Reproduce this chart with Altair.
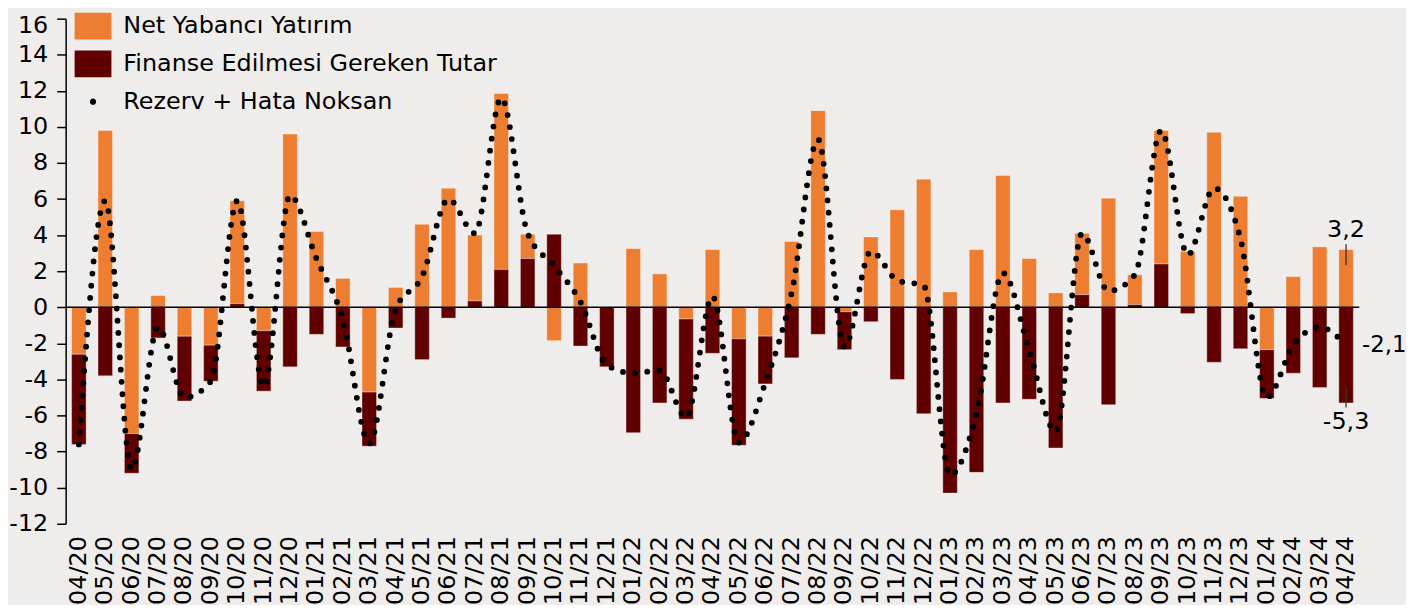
import altair as alt
import pandas as pd

months = ["04/20", "05/20", "06/20", "07/20", "08/20", "09/20", "10/20", "11/20", "12/20",
          "01/21", "02/21", "03/21", "04/21", "05/21", "06/21", "07/21", "08/21", "09/21", "10/21", "11/21", "12/21",
          "01/22", "02/22", "03/22", "04/22", "05/22", "06/22", "07/22", "08/22", "09/22", "10/22", "11/22", "12/22",
          "01/23", "02/23", "03/23", "04/23", "05/23", "06/23", "07/23", "08/23", "09/23", "10/23", "11/23", "12/23",
          "01/24", "02/24", "03/24", "04/24"]

# stacked segment values (bn USD)
net_yabanci = [-2.6, 9.8, -7.0, 0.65, -1.6, -2.1, 5.7, -1.3, 9.6,
               4.2, 1.6, -4.7, 1.1, 4.6, 6.6, 3.65, 9.75, 1.35, -1.85, 2.45, 0.0,
               3.25, 1.85, -0.65, 3.2, -1.75, -1.6, 3.65, 10.9, -0.25, 3.9, 5.4, 7.1,
               0.85, 3.2, 7.3, 2.7, 0.8, 3.4, 6.05, 1.65, 7.4, 3.1, 9.7, 6.15,
               -2.35, 1.7, 3.35, 3.2]
finanse = [-5.0, -3.8, -2.2, -1.7, -3.6, -2.0, 0.2, -3.35, -3.3,
           -1.5, -2.2, -3.0, -1.15, -2.9, -0.6, 0.35, 2.1, 2.7, 4.05, -2.15, -3.3,
           -6.95, -5.3, -5.55, -2.55, -5.9, -2.65, -2.8, -1.5, -2.1, -0.8, -4.0, -5.9,
           -10.3, -9.15, -5.3, -5.1, -7.8, 0.7, -5.4, 0.15, 2.4, -0.35, -3.05, -2.3,
           -2.7, -3.65, -4.45, -5.3]
rezerv = [-7.6, 5.9, -9.0, -1.1, -5.0, -4.1, 5.9, -4.4, 6.2,
          2.7, -0.7, -7.55, -0.1, 1.7, 6.0, 4.1, 11.6, 4.1, 2.3, 0.3, -3.2,
          -3.65, -3.5, -6.1, 0.6, -7.5, -4.2, 0.8, 9.3, -2.2, 3.1, 1.5, 1.2,
          -9.3, -5.9, 1.9, -2.4, -6.9, 4.1, 0.9, 1.8, 9.8, 2.9, 6.6, 3.8,
          -5.0, -2.1, -1.1, -2.1]

series_names = ["Net Yabancı Yatırım", "Finanse Edilmesi Gereken Tutar", "Rezerv + Hata Noksan"]
series_colors = ["#ED7D31", "#600000", "#000000"]

ann_month = ["04/24"]
ann_top_label, ann_top_value = ["3,2"], [3.2]
ann_bot_label, ann_bot_value = ["-5,3"], [-5.3]
ann_side_label, ann_side_value = ["-2,1"], [-2.1]

rows = []
for m, o, d in zip(months, net_yabanci, finanse):
    rows.append({"month": m, "key": "nyy", "series": series_names[0], "value": o})
    rows.append({"month": m, "key": "fegt", "series": series_names[1], "value": d})
bars_df = pd.DataFrame(rows)
dots_df = pd.DataFrame({"month": months, "value": rezerv})
legend_df = pd.DataFrame({"series": series_names})

FONT = "DejaVu Sans"

x_scale = alt.Scale(paddingInner=0.45, paddingOuter=0.225)
x_axis = alt.Axis(title=None, labelAngle=-90, labelFontSize=24, labelFont=FONT,
                  labelColor="black", ticks=False, domain=False, labelPadding=12,
                  labelOverlap=False)
y_scale = alt.Scale(domain=[-12, 16], nice=False, zero=False)
y_axis = alt.Axis(title=None, values=list(range(-12, 17, 2)), domainColor="black", domainWidth=1.5,
                  tickColor="black", tickSize=9, tickWidth=1.5, labelFontSize=24, labelFont=FONT,
                  labelColor="black", labelPadding=9, grid=False, labelOverlap=False,
                  labelOffset={"condition": {"test": "datum.value === 16", "value": 7}, "value": 0},
                  labelExpr="'' + datum.value")


def X():
    return alt.X("month:N", sort=months, scale=x_scale, axis=x_axis)


def Y(field):
    return alt.Y(field, scale=y_scale, axis=y_axis)


color_scale = alt.Scale(domain=series_names, range=series_colors)
shape_scale = alt.Scale(domain=series_names,
                        range=["M-1,-0.73L1,-0.73L1,0.73L-1,0.73Z",
                               "M-1,-0.73L1,-0.73L1,0.73L-1,0.73Z",
                               "M-0.17,0A0.17,0.17,0,1,0,0.17,0A0.17,0.17,0,1,0,-0.17,0Z"])
leg = alt.Legend(title=None, orient="none", legendX=9, legendY=-11, symbolSize=1369,
                 symbolStrokeWidth=0, symbolOpacity=1, labelFontSize=24, labelFont=FONT,
                 labelColor="black", labelOffset=12, rowPadding=5, padding=0, labelLimit=0)

bars = alt.Chart(bars_df).transform_calculate(
    ord="datum.value >= 0 ? (datum.key == 'fegt' ? 0 : 1) : (datum.key == 'nyy' ? 0 : 1)"
).mark_bar(stroke="white", strokeOpacity=0.35, strokeWidth=1).encode(
    x=X(),
    y=alt.Y("value:Q", stack="zero", scale=y_scale, axis=y_axis),
    color=alt.Color("series:N", scale=color_scale, legend=leg),
    order=alt.Order("ord:Q"),
)

zero = alt.Chart(pd.DataFrame({"value": [0]})).mark_rule(color="black", strokeWidth=1.5).encode(
    y=Y("value:Q"))

line = alt.Chart(dots_df).mark_line(interpolate="monotone", strokeDash=[0, 12.3], strokeCap="round",
                                    strokeWidth=5.8, color="black").encode(
    x=X(), y=Y("value:Q"))

top_df = pd.DataFrame({"month": ann_month, "value": ann_top_value, "label": ann_top_label})
bot_df = pd.DataFrame({"month": ann_month, "value": ann_bot_value, "label": ann_bot_label})
side_df = pd.DataFrame({"month": ann_month, "value": ann_side_value, "label": ann_side_label})

top_text = alt.Chart(top_df).mark_text(dy=-20, fontSize=24, font=FONT, color="black").encode(
    x=X(), y=Y("value:Q"), text="label:N")
bot_text = alt.Chart(bot_df).mark_text(dy=19, fontSize=24, font=FONT, color="black").encode(
    x=X(), y=Y("value:Q"), text="label:N")
side_text = alt.Chart(side_df).mark_text(dx=16, align="left", fontSize=23, font=FONT, color="black").encode(
    x=X(), y=Y("value:Q"), text="label:N")
top_tick = alt.Chart(top_df).mark_rule(yOffset=-5.3, y2Offset=15.7, color="#333333", strokeWidth=1.3).encode(
    x=X(), y=Y("value:Q"), y2="value")
bot_tick = alt.Chart(bot_df).mark_rule(yOffset=-16.3, y2Offset=4.7, color="#333333", strokeWidth=1.3).encode(
    x=X(), y=Y("value:Q"), y2="value")

legend_layer = alt.Chart(legend_df).transform_filter("false").mark_point(filled=True).encode(
    color=alt.Color("series:N", scale=color_scale, legend=leg),
    shape=alt.Shape("series:N", scale=shape_scale, legend=leg),
)

chart = alt.layer(bars, zero, line, top_tick, bot_tick, top_text, bot_text, side_text, legend_layer).properties(
    width=1301, height=508,
    padding={"left": 58, "top": 9, "right": 47, "bottom": 80},
    autosize=alt.AutoSizeParams(type="none"),
    background="#efedec",
).configure_view(stroke=None)

chart.save("out.html", embed_options={"renderer": "svg", "actions": False})
